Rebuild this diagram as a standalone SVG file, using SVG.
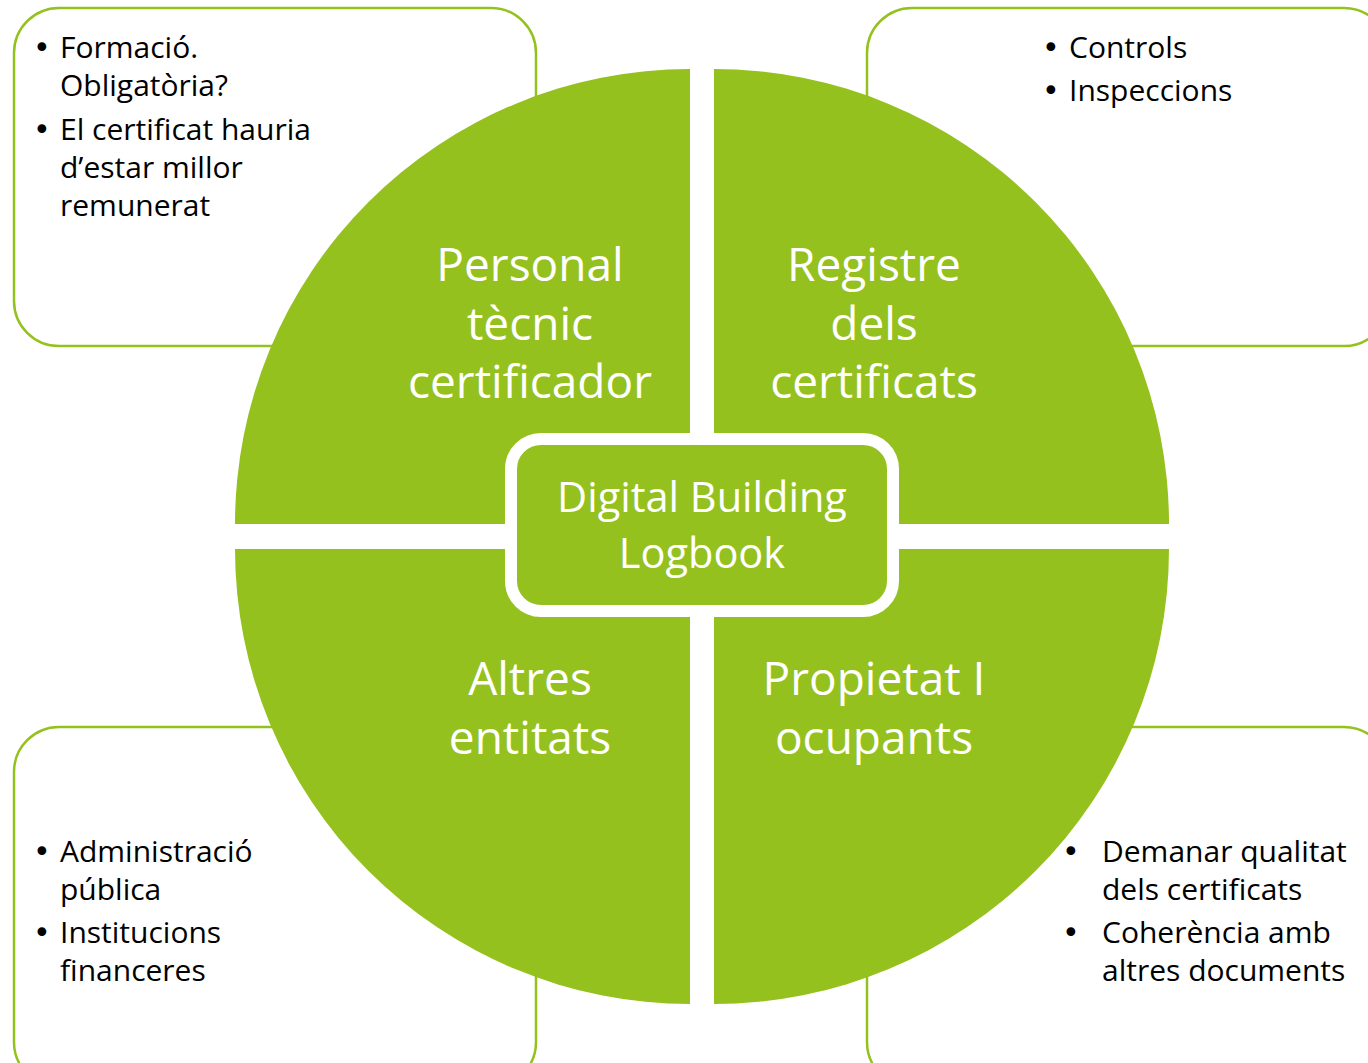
<svg xmlns="http://www.w3.org/2000/svg" width="1368" height="1063" viewBox="0 0 1368 1063">
<style>
.box{fill:#fff;stroke:#95C11F;stroke-width:2.5}
.quad{fill:#95C11F}
text{font-family:"Open Sans","Noto Sans",sans-serif;font-variant-ligatures:none}
.ql{font-size:46px;fill:#fff;text-anchor:middle}
.cl{font-size:41.5px;fill:#fff;text-anchor:middle}
.bt{font-size:30px;fill:#000}
.bu{font-family:"DejaVu Sans",sans-serif;font-size:30px}
</style>
<rect width="1368" height="1063" fill="#fff"/>
<g id="box-tl"><rect class="box" x="14" y="8" width="522" height="338" rx="45"/>
<text class="bt"><tspan class="bu" x="33" y="58">•</tspan><tspan x="60" y="58">Formació.</tspan><tspan x="60" y="96">Obligatòria?</tspan><tspan class="bu" x="33" y="140">•</tspan><tspan x="60" y="140">El certificat hauria</tspan><tspan x="60" y="178">d’estar millor</tspan><tspan x="60" y="216">remunerat</tspan></text></g>
<g id="box-tr"><rect class="box" x="867" y="8" width="522" height="338" rx="45"/>
<text class="bt"><tspan class="bu" x="1042" y="58">•</tspan><tspan x="1069" y="58">Controls</tspan><tspan class="bu" x="1042" y="101">•</tspan><tspan x="1069" y="101">Inspeccions</tspan></text></g>
<g id="box-bl"><rect class="box" x="14" y="727" width="522" height="360" rx="45"/>
<text class="bt"><tspan class="bu" x="33" y="862">•</tspan><tspan x="60" y="862">Administració</tspan><tspan x="60" y="900">pública</tspan><tspan class="bu" x="33" y="943">•</tspan><tspan x="60" y="943">Institucions</tspan><tspan x="60" y="981">financeres</tspan></text></g>
<g id="box-br"><rect class="box" x="867" y="727" width="522" height="360" rx="45"/>
<text class="bt"><tspan class="bu" x="1062" y="862">•</tspan><tspan x="1102" y="862">Demanar qualitat</tspan><tspan x="1102" y="900">dels certificats</tspan><tspan class="bu" x="1062" y="943">•</tspan><tspan x="1102" y="943">Coherència amb</tspan><tspan x="1102" y="981">altres documents</tspan></text></g>
<g id="q-tl"><path class="quad" d="M690,524 L235,524 A455,455 0 0 1 690,69 Z"/>
<text class="ql"><tspan x="530" y="281">Personal</tspan><tspan x="530" y="340">tècnic</tspan><tspan x="530" y="398">certificador</tspan></text></g>
<g id="q-tr"><path class="quad" d="M714,524 L714,69 A455,455 0 0 1 1169,524 Z"/>
<text class="ql"><tspan x="874" y="281">Registre</tspan><tspan x="874" y="340">dels</tspan><tspan x="874" y="398">certificats</tspan></text></g>
<g id="q-bl"><path class="quad" d="M690,549 L690,1004 A455,455 0 0 1 235,549 Z"/>
<text class="ql"><tspan x="530" y="695">Altres</tspan><tspan x="530" y="754">entitats</tspan></text></g>
<g id="q-br"><path class="quad" d="M714,549 L1169,549 A455,455 0 0 1 714,1004 Z"/>
<text class="ql"><tspan x="874" y="695">Propietat I</tspan><tspan x="874" y="754">ocupants</tspan></text></g>
<g id="center"><rect x="511" y="439" width="382" height="172" rx="30" fill="#95C11F" stroke="#fff" stroke-width="12"/>
<text class="cl"><tspan x="702" y="512">Digital Building</tspan><tspan x="702" y="568">Logbook</tspan></text></g>
<g id="connectors"/>
</svg>
